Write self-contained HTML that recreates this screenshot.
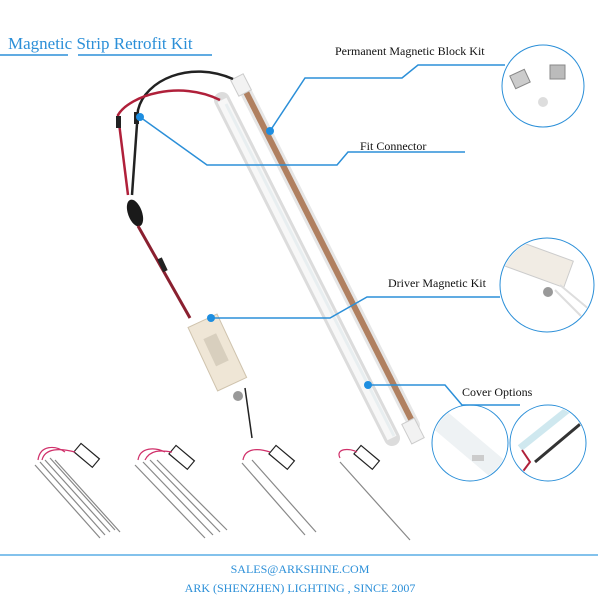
<!DOCTYPE html>
<html><head><meta charset="utf-8"><style>
html,body{margin:0;padding:0;background:#fff;}
svg{display:block}
text{font-family:"Liberation Serif",serif;}
</style></head><body>
<svg width="600" height="600" viewBox="0 0 600 600" xmlns="http://www.w3.org/2000/svg">
<defs>
<clipPath id="c1"><circle cx="543" cy="86" r="40"/></clipPath>
<clipPath id="c2"><circle cx="547" cy="285" r="46"/></clipPath>
<clipPath id="c3"><circle cx="470" cy="443" r="37"/></clipPath>
<clipPath id="c4"><circle cx="548" cy="443" r="37"/></clipPath>
</defs>
<rect width="600" height="600" fill="#fff"/>
<!-- title -->
<text x="8" y="49" font-size="17" fill="#2b8fd8">Magnetic Strip Retrofit Kit</text>
<line x1="0" y1="55" x2="68" y2="55" stroke="#2b8fd8" stroke-width="1.5"/>
<line x1="78" y1="55" x2="212" y2="55" stroke="#2b8fd8" stroke-width="1.5"/>

<!-- strips -->
<g>
<line x1="242" y1="84" x2="414" y2="425" stroke="#e6e6e6" stroke-width="12" stroke-linecap="round"/>
<line x1="242" y1="84" x2="414" y2="425" stroke="#b08060" stroke-width="6"/>
<rect x="234" y="76" width="14" height="18" fill="#f2f2f2" stroke="#ccc" transform="rotate(-27 241 85)"/>
<rect x="406" y="420" width="14" height="22" fill="#f2f2f2" stroke="#ccc" transform="rotate(-27 413 431)"/>
<line x1="222" y1="100" x2="392" y2="438" stroke="#dcdcdc" stroke-width="16" stroke-linecap="round"/>
<line x1="222" y1="100" x2="392" y2="438" stroke="#f7f7f7" stroke-width="10"/>
<line x1="226" y1="104" x2="394" y2="436" stroke="#e8eef0" stroke-width="3"/>
</g>
<!-- wires -->
<path d="M233 79 C190 60 145 80 138 110 L132 195" stroke="#222" stroke-width="2.5" fill="none"/>
<path d="M220 100 C180 80 130 95 118 115 L128 195" stroke="#b0203a" stroke-width="2.5" fill="none"/>
<rect x="116" y="116" width="5" height="12" fill="#222"/>
<rect x="134" y="112" width="5" height="12" fill="#222"/>
<ellipse cx="135" cy="213" rx="7" ry="14" fill="#1a1a1a" transform="rotate(-20 135 213)"/>
<path d="M138 226 L190 318" stroke="#8a2030" stroke-width="3" fill="none"/>
<rect x="160" y="258" width="5" height="14" fill="#222" transform="rotate(-25 162 265)"/>
<!-- driver -->
<g transform="rotate(-25 216 352)">
<rect x="201" y="318" width="32" height="70" fill="#efe6d6" stroke="#cfc3ad"/>
<rect x="210" y="335" width="14" height="30" fill="#d8cfbe"/>
</g>
<circle cx="238" cy="396" r="5" fill="#999"/>
<line x1="245" y1="388" x2="252" y2="438" stroke="#222" stroke-width="1.5"/>

<!-- circle contents -->
<g clip-path="url(#c1)">
<rect x="512" y="72" width="16" height="14" fill="#ccc" stroke="#888" transform="rotate(-25 520 79)"/>
<rect x="550" y="65" width="15" height="14" fill="#bbb" stroke="#888"/>
<circle cx="543" cy="102" r="5" fill="#ddd"/>
</g>
<g clip-path="url(#c2)">
<g transform="rotate(20 540 265)"><rect x="505" y="250" width="65" height="28" fill="#f1ece4" stroke="#ccc"/></g>
<circle cx="548" cy="292" r="5" fill="#999"/>
<line x1="555" y1="290" x2="585" y2="320" stroke="#ddd" stroke-width="2"/>
<line x1="560" y1="285" x2="590" y2="310" stroke="#ddd" stroke-width="2"/>
</g>
<g clip-path="url(#c3)">
<line x1="440" y1="420" x2="505" y2="475" stroke="#eef2f4" stroke-width="22"/>
<rect x="472" y="455" width="12" height="6" fill="#ccc"/>
</g>
<g clip-path="url(#c4)">
<line x1="520" y1="448" x2="580" y2="400" stroke="#cfe8ef" stroke-width="7"/>
<line x1="535" y1="462" x2="585" y2="420" stroke="#333" stroke-width="3"/>
<path d="M522 450 L530 462 L518 478" stroke="#b0203a" stroke-width="2" fill="none"/>
</g>

<!-- callouts -->
<g stroke="#2b8fd8" stroke-width="1.5" fill="none">
<polyline points="270,131 305,78 402,78 418,65 505,65"/>
<polyline points="140,117 207,165 337,165 348,152 465,152"/>
<polyline points="211,318 330,318 367,297 500,297"/>
<polyline points="368,385 445,385 462,405 520,405"/>
<circle cx="543" cy="86" r="41" stroke-width="1"/>
<circle cx="547" cy="285" r="47" stroke-width="1"/>
<circle cx="470" cy="443" r="38" stroke-width="1"/>
<circle cx="548" cy="443" r="38" stroke-width="1"/>
</g>
<g fill="#1e8ee0"><circle cx="270" cy="131" r="4"/><circle cx="140" cy="117" r="4"/><circle cx="211" cy="318" r="4"/><circle cx="368" cy="385" r="4"/></g>
<text x="335" y="55" font-size="12" fill="#111">Permanent Magnetic Block Kit</text>
<text x="360" y="150" font-size="12" fill="#111">Fit Connector</text>
<text x="388" y="287" font-size="12" fill="#111">Driver Magnetic Kit</text>
<text x="462" y="396" font-size="12" fill="#111">Cover Options</text>

<!-- bottom kits -->
<g stroke="#888" stroke-width="1.2" fill="none">
<g><line x1="35" y1="465" x2="100" y2="538"/><line x1="40" y1="462" x2="105" y2="535"/><line x1="45" y1="460" x2="110" y2="532"/><line x1="50" y1="458" x2="115" y2="530"/><line x1="55" y1="460" x2="120" y2="532"/></g>
<rect x="75" y="450" width="24" height="11" stroke="#222" transform="rotate(40 87 455)"/>
<g><line x1="135" y1="465" x2="205" y2="538"/><line x1="143" y1="462" x2="213" y2="535"/><line x1="150" y1="460" x2="220" y2="532"/><line x1="157" y1="460" x2="227" y2="530"/></g>
<rect x="170" y="452" width="24" height="11" stroke="#222" transform="rotate(40 182 457)"/>
<g><line x1="242" y1="463" x2="305" y2="535"/><line x1="252" y1="460" x2="316" y2="532"/></g>
<rect x="270" y="452" width="24" height="11" stroke="#222" transform="rotate(40 282 457)"/>
<line x1="340" y1="462" x2="410" y2="540"/>
<rect x="355" y="452" width="24" height="11" stroke="#222" transform="rotate(40 367 457)"/>
</g>
<g stroke="#d0306a" stroke-width="1.2" fill="none">
<path d="M38 460 C40 445 55 445 65 452"/><path d="M42 460 C45 448 60 448 75 452"/>
<path d="M138 460 C140 447 155 447 165 452"/><path d="M145 460 C150 450 160 450 172 452"/>
<path d="M243 460 C245 448 258 448 270 452"/>
<path d="M340 458 C335 448 350 448 357 452"/>
</g>

<!-- footer -->
<line x1="0" y1="555" x2="598" y2="555" stroke="#5aaee6" stroke-width="1.5"/>
<text x="300" y="573" font-size="12" fill="#2b8fd8" text-anchor="middle">SALES@ARKSHINE.COM</text>
<text x="300" y="592" font-size="12" fill="#2b8fd8" text-anchor="middle">ARK (SHENZHEN) LIGHTING , SINCE 2007</text>
</svg>
</body></html>
